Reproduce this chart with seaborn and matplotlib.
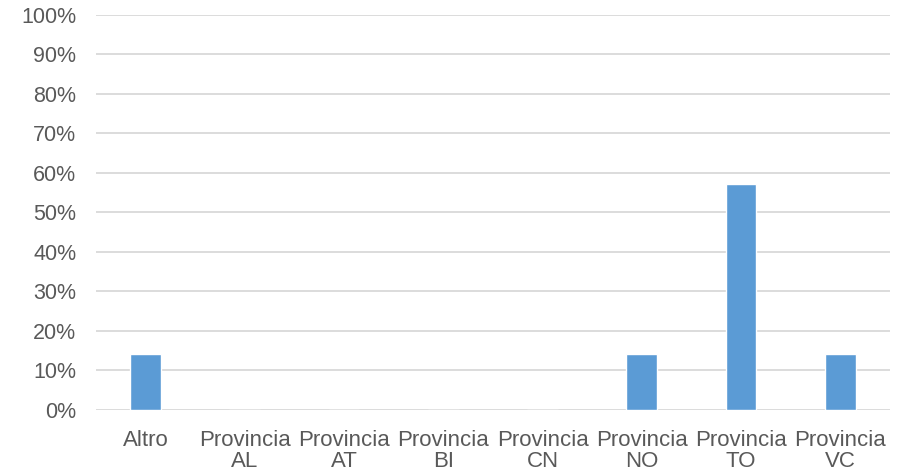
import matplotlib
matplotlib.use("Agg")
import matplotlib.pyplot as plt
import seaborn as sns
import pandas as pd
from matplotlib.ticker import PercentFormatter, MultipleLocator

categories = ["Altro", "Provincia\nAL", "Provincia\nAT", "Provincia\nBI",
              "Provincia\nCN", "Provincia\nNO", "Provincia\nTO", "Provincia\nVC"]
shares = [0.1429, 0.0, 0.0, 0.0, 0.0, 0.1429, 0.5714, 0.1429]

df = pd.DataFrame({"categoria": categories, "quota": shares})

sns.set_style("white")
plt.rcParams["font.family"] = ["Liberation Sans", "DejaVu Sans"]

fig = plt.figure(figsize=(9.04, 4.76), dpi=100)
ax = fig.add_axes([0.106, 0.1387, 0.8785, 0.8298])

sns.barplot(data=df, x="categoria", y="quota", color="#5b9bd5",
            saturation=1, width=0.31, ax=ax, zorder=3)

ax.set_ylim(0, 1.0)
ax.set_xlim(-0.5, len(categories) - 0.5)
ax.yaxis.set_major_locator(MultipleLocator(0.1))
ax.yaxis.set_major_formatter(PercentFormatter(1.0, decimals=0))
ax.grid(axis="y", color="#d9d9d9", linewidth=1.3, zorder=0)
ax.set_axisbelow(True)
for s in ax.spines.values():
    s.set_visible(False)
ax.set_xlabel("")
ax.set_ylabel("")
ax.tick_params(axis="y", length=0, pad=14, labelsize=15.5, labelcolor="#595959")
ax.tick_params(axis="x", length=0, pad=14.5, labelsize=16, labelcolor="#595959")
for lbl in ax.get_xticklabels():
    lbl.set_linespacing(0.97)

fig.savefig("out.png", dpi=100)
